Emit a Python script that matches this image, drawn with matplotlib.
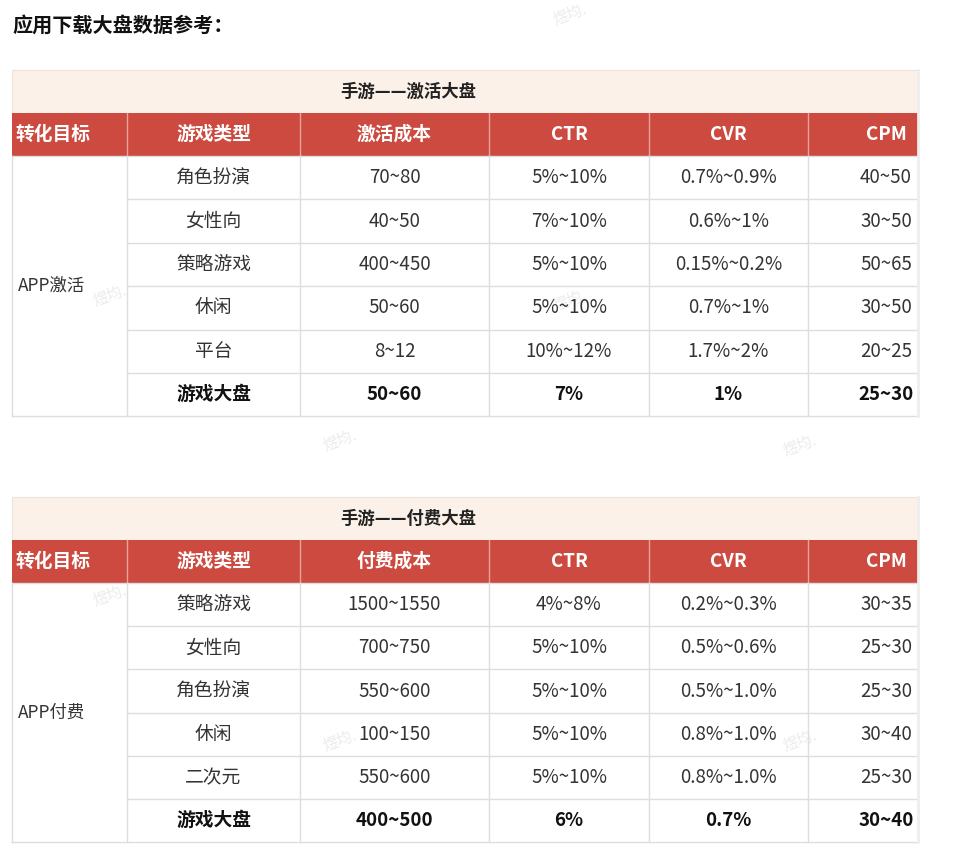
import matplotlib.pyplot as plt
from matplotlib.patches import Rectangle

plt.rcParams['font.family'] = ['Noto Sans CJK SC', 'DejaVu Sans']

TITLE = "应用下载大盘数据参考："
HEADERS_1 = ["转化目标", "游戏类型", "激活成本", "CTR", "CVR", "CPM"]
HEADERS_2 = ["转化目标", "游戏类型", "付费成本", "CTR", "CVR", "CPM"]

GAMES_1 = ["角色扮演", "女性向", "策略游戏", "休闲", "平台", "游戏大盘"]
COST_1 = ["70~80", "40~50", "400~450", "50~60", "8~12", "50~60"]
CTR_1 = ["5%~10%", "7%~10%", "5%~10%", "5%~10%", "10%~12%", "7%"]
CVR_1 = ["0.7%~0.9%", "0.6%~1%", "0.15%~0.2%", "0.7%~1%", "1.7%~2%", "1%"]
CPM_1 = ["40~50", "30~50", "50~65", "30~50", "20~25", "25~30"]

GAMES_2 = ["策略游戏", "女性向", "角色扮演", "休闲", "二次元", "游戏大盘"]
COST_2 = ["1500~1550", "700~750", "550~600", "100~150", "550~600", "400~500"]
CTR_2 = ["4%~8%", "5%~10%", "5%~10%", "5%~10%", "5%~10%", "6%"]
CVR_2 = ["0.2%~0.3%", "0.5%~0.6%", "0.5%~1.0%", "0.8%~1.0%", "0.8%~1.0%", "0.7%"]
CPM_2 = ["30~35", "25~30", "25~30", "30~40", "25~30", "30~40"]

COL_X = [12, 127, 300, 489, 649, 808, 918]
CPM_CX = 886
RED = "#cc4a3f"
BAND = "#fbf1e9"
GRID = "#dedede"
FS = 13.5


def draw_table(ax, top, band_title, headers, target, cols, row_h=43.3):
    x0, x1 = COL_X[0], COL_X[-1]
    band_h, head_h = 43, 43
    ax.add_patch(Rectangle((x0, top), x1 - x0, band_h, facecolor=BAND, edgecolor="#ece4dc", lw=0.8))
    ax.text(408, top + band_h / 2, band_title, ha="center", va="center",
            fontsize=12.5, fontweight="bold", color="#222222")
    hy = top + band_h
    ax.add_patch(Rectangle((x0, hy), x1 - x0, head_h, facecolor=RED, edgecolor="none"))
    for i, h in enumerate(headers):
        if i == 0:
            ax.text(COL_X[0] + 4, hy + head_h / 2, h, ha="left", va="center",
                    fontsize=FS, fontweight="bold", color="white")
        else:
            cx = CPM_CX if i == 5 else (COL_X[i] + COL_X[i + 1]) / 2
            ax.text(cx, hy + head_h / 2, h, ha="center", va="center",
                    fontsize=FS, fontweight="bold", color="white")
            ax.plot([COL_X[i], COL_X[i]], [hy, hy + head_h], color="#e8a39c", lw=1)
    ry = hy + head_h
    n = len(cols[0])
    bottom = ry + n * row_h
    for r in range(n + 1):
        ax.plot([COL_X[1] if 0 < r < n else x0, x1], [ry + r * row_h] * 2, color=GRID, lw=1)
    for c in COL_X[:-1]:
        ax.plot([c, c], [ry, bottom], color=GRID, lw=1)
    ax.plot([x1, x1], [top, bottom], color="#eeeeee", lw=2)
    ax.text(COL_X[0] + 6, ry + n * row_h / 2, target, ha="left", va="center",
            fontsize=12.5, color="#333333")
    for r in range(n):
        cy = ry + (r + 0.5) * row_h
        bold = r == n - 1
        for j, col in enumerate(cols):
            i = j + 1
            cx = CPM_CX if i == 5 else (COL_X[i] + COL_X[i + 1]) / 2
            ax.text(cx, cy, col[r], ha="center", va="center", fontsize=FS,
                    fontweight="bold" if bold else "normal",
                    color="#111111" if bold else "#333333")


fig = plt.figure(figsize=(9.6, 8.55), dpi=100)
ax = fig.add_axes([0, 0, 1, 1])
ax.set_xlim(0, 960)
ax.set_ylim(855, 0)
ax.axis("off")

ax.text(12, 25, TITLE, ha="left", va="center", fontsize=14.5, fontweight="bold", color="#111111")

draw_table(ax, 70, "手游——激活大盘", HEADERS_1, "APP激活",
           [GAMES_1, COST_1, CTR_1, CVR_1, CPM_1], row_h=43.4)
draw_table(ax, 497, "手游——付费大盘", HEADERS_2, "APP付费",
           [GAMES_2, COST_2, CTR_2, CVR_2, CPM_2], row_h=43.2)

# faint watermarks
for wx, wy in [(570, 14), (340, 440), (800, 445), (110, 295), (800, 145), (110, 595), (340, 740), (800, 740), (570, 300)]:
    ax.text(wx, wy, "煜均.", ha="center", va="center", fontsize=11, color="#ebebeb",
            rotation=20, zorder=0)

fig.savefig("out.png", dpi=100)
